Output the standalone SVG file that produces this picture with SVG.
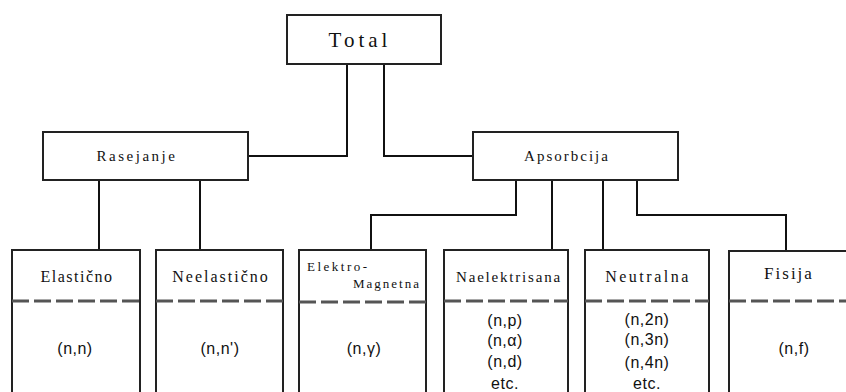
<svg xmlns="http://www.w3.org/2000/svg" width="846" height="392" viewBox="0 0 846 392">
<style>
.box{fill:#fff;stroke:#222;stroke-width:2}
.dash{stroke:#555;stroke-width:3;stroke-dasharray:17 5;fill:none}
.con{stroke:#111;stroke-width:2;fill:none}
.hd{font-family:'Liberation Serif','Times New Roman',serif;font-size:16px;fill:#111;text-anchor:middle}
.sm{font-family:'Liberation Serif','Times New Roman',serif;font-size:13px;fill:#111}
.bd{font-family:'Liberation Sans',Arial,sans-serif;font-size:16px;fill:#111;text-anchor:middle;letter-spacing:0.5px}
</style>
<rect width="846" height="392" fill="#fff"/>
<g id="connectors">
<polyline class="con" points="347,64 347,156 248,156"/>
<polyline class="con" points="384,64 384,156 473,156"/>
<line class="con" x1="99" y1="180" x2="99" y2="250"/>
<line class="con" x1="200" y1="180" x2="200" y2="250"/>
<polyline class="con" points="516,180 516,215 371,215 371,250"/>
<line class="con" x1="552" y1="180" x2="552" y2="250"/>
<line class="con" x1="603" y1="180" x2="603" y2="250"/>
<polyline class="con" points="637,180 637,215 786,215 786,251"/>
</g>
<g id="total">
<rect class="box" x="287" y="15" width="154" height="49"/>
<text class="hd" x="360" y="47" style="font-size:21px;letter-spacing:4px">Total</text>
</g>
<g id="rasejanje">
<rect class="box" x="43" y="132" width="205" height="48"/>
<text class="hd" x="137" y="161" style="font-size:15px;letter-spacing:2.5px">Rasejanje</text>
</g>
<g id="apsorbcija">
<rect class="box" x="473" y="132" width="205" height="48"/>
<text class="hd" x="567" y="161" style="font-size:15px;letter-spacing:2px">Apsorbcija</text>
</g>
<g id="elasticno">
<rect class="box" x="12" y="250" width="128" height="160"/>
<line class="dash" x1="12" y1="301" x2="140" y2="301"/>
<text class="hd" x="77" y="282" style="letter-spacing:1.5px">Elastično</text>
<text class="bd" x="75" y="354">(n,n)</text>
</g>
<g id="neelasticno">
<rect class="box" x="156" y="250" width="127" height="160"/>
<line class="dash" x1="156" y1="301" x2="283" y2="301"/>
<text class="hd" x="221" y="282" style="letter-spacing:2px">Neelastično</text>
<text class="bd" x="220" y="354">(n,n')</text>
</g>
<g id="elektromagnetna">
<rect class="box" x="299" y="250" width="127" height="160"/>
<line class="dash" x1="299" y1="302" x2="426" y2="302"/>
<text class="sm" x="307" y="271" style="letter-spacing:2.5px">Elektro-</text>
<text class="sm" x="421" y="288" text-anchor="end" style="letter-spacing:2px">Magnetna</text>
<text class="bd" x="364" y="354">(n,γ)</text>
</g>
<g id="naelektrisana">
<rect class="box" x="444" y="250" width="124" height="160"/>
<line class="dash" x1="444" y1="301" x2="568" y2="301"/>
<text class="hd" x="509" y="282" style="font-size:15px;letter-spacing:1.8px">Naelektrisana</text>
<text class="bd" x="505" y="326">(n,p)</text>
<text class="bd" x="505" y="346">(n,α)</text>
<text class="bd" x="505" y="367">(n,d)</text>
<text class="bd" x="505" y="389">etc.</text>
</g>
<g id="neutralna">
<rect class="box" x="585" y="250" width="124" height="160"/>
<line class="dash" x1="585" y1="301" x2="709" y2="301"/>
<text class="hd" x="648" y="282" style="letter-spacing:2.5px">Neutralna</text>
<text class="bd" x="647" y="325">(n,2n)</text>
<text class="bd" x="647" y="345">(n,3n)</text>
<text class="bd" x="647" y="368">(n,4n)</text>
<text class="bd" x="647" y="389">etc.</text>
</g>
<g id="fisija">
<rect class="box" x="729" y="251" width="130" height="160"/>
<line class="dash" x1="729" y1="301" x2="846" y2="301"/>
<text class="hd" x="789" y="279" style="font-size:17px;letter-spacing:2px">Fisija</text>
<text class="bd" x="794" y="354">(n,f)</text>
</g>
</svg>
